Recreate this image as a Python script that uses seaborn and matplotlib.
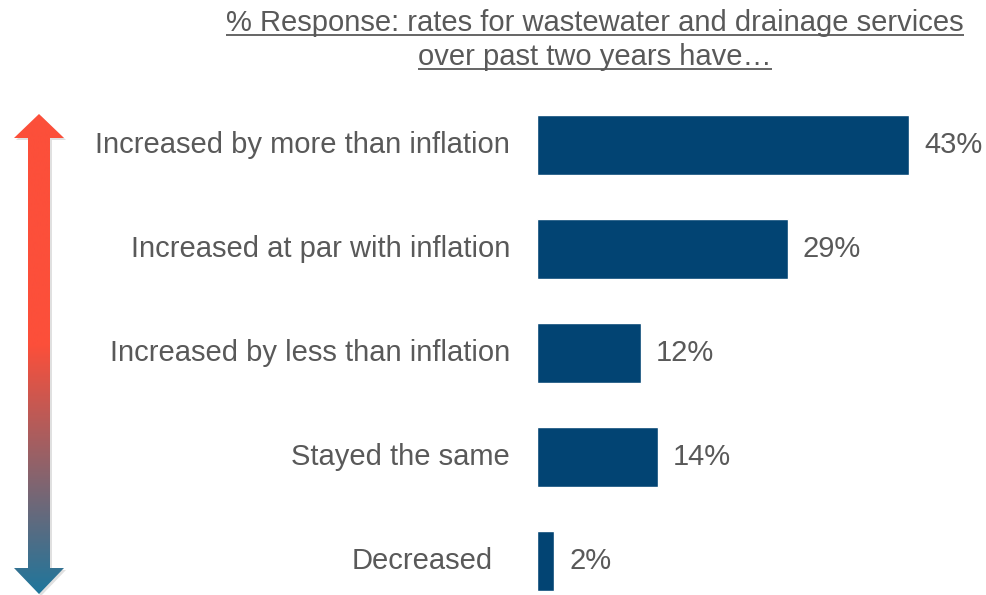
import numpy as np
import pandas as pd
import matplotlib
matplotlib.use("Agg")
import matplotlib.pyplot as plt
from matplotlib.patches import Polygon
import seaborn as sns

categories = [
    "Increased by more than inflation",
    "Increased at par with inflation",
    "Increased by less than inflation",
    "Stayed the same",
    "Decreased",
]
shares = [43, 29, 12, 14, 2]
value_labels = ["43%", "29%", "12%", "14%", "2%"]
title_lines = [
    "% Response: rates for wastewater and drainage services",
    "over past two years have\u2026",
]

sns.set_theme(style="white")
plt.rcParams["font.family"] = ["Liberation Sans", "DejaVu Sans"]

W, H = 986, 595
fig = plt.figure(figsize=(W / 100, H / 100), dpi=100)
fig.patch.set_facecolor("white")

BAR = "#024473"
TXT = "#595959"
FS = 21

df = pd.DataFrame({"category": categories, "share": shares})

# bar panel: value 0 sits at x=537 px, category centres 104 px apart
ax_left, ax_top = 537, 93
ax_w, ax_h = W - ax_left, H - ax_top
ax = fig.add_axes([ax_left / W, 0, ax_w / W, ax_h / H])
sns.barplot(data=df, x="share", y="category", orient="h", color=BAR,
            saturation=1, width=0.57, ax=ax)
px_per_unit = 8.65
ax.set_xlim(0, ax_w / px_per_unit)
ax.set_ylim(4 + (H - 561) / 104, -0.5)
ax.axis("off")

for i, (v, lab) in enumerate(zip(shares, value_labels)):
    ax.text(v + 15 / px_per_unit, i, lab, ha="left", va="center",
            fontsize=FS, color=TXT)

label_offsets = [27, 27, 27, 27, 44]
for i, (cat, off) in enumerate(zip(categories, label_offsets)):
    ax.text(-off / ax_w, i, cat, transform=ax.get_yaxis_transform(),
            ha="right", va="center", fontsize=FS, color=TXT)

# overlay in pixel coordinates for title and arrow
ov = fig.add_axes([0, 0, 1, 1], zorder=-1)
ov.set_xlim(0, W)
ov.set_ylim(H, 0)
ov.axis("off")

# underlined two-line title
fig.canvas.draw()
renderer = fig.canvas.get_renderer()
for y_base, line in zip([31, 65], title_lines):
    t = ov.text(595, y_base, line, ha="center", va="baseline",
                fontsize=FS, color=TXT)
    bb = t.get_window_extent(renderer=renderer)
    ov.plot([bb.x0, bb.x1], [y_base + 3.5, y_base + 3.5], color=TXT, lw=1.3,
            solid_capstyle="butt")

# double-headed gradient arrow
cx = 39
shaft = 11
head = 25
top_tip, top_base = 114, 138
bot_base, bot_tip = 568, 594
pts = [(cx, top_tip), (cx + head, top_base), (cx + shaft, top_base),
       (cx + shaft, bot_base), (cx + head, bot_base), (cx, bot_tip),
       (cx - head, bot_base), (cx - shaft, bot_base), (cx - shaft, top_base),
       (cx - head, top_base)]

shadow = Polygon([(x + 2, y + 2) for x, y in pts], closed=True,
                 facecolor="#000000", alpha=0.12, edgecolor="none")
ov.add_patch(shadow)

red = np.array([252, 79, 58]) / 255
blue = np.array([30, 118, 156]) / 255
ys = np.arange(top_tip, bot_tip + 1)
frac = np.clip((ys - 345) / (bot_tip - 345), 0, 1)[:, None]
cols = red * (1 - frac) + blue * frac
img = np.repeat(cols[:, None, :], 2, axis=1)
im = ov.imshow(img, extent=(cx - head - 1, cx + head + 1, bot_tip, top_tip),
               aspect="auto", interpolation="bilinear", zorder=2)
clip = Polygon(pts, closed=True, facecolor="none", edgecolor="none")
ov.add_patch(clip)
im.set_clip_path(clip)
ov.set_xlim(0, W)
ov.set_ylim(H, 0)

fig.savefig("out.png", dpi=100, facecolor="white")
